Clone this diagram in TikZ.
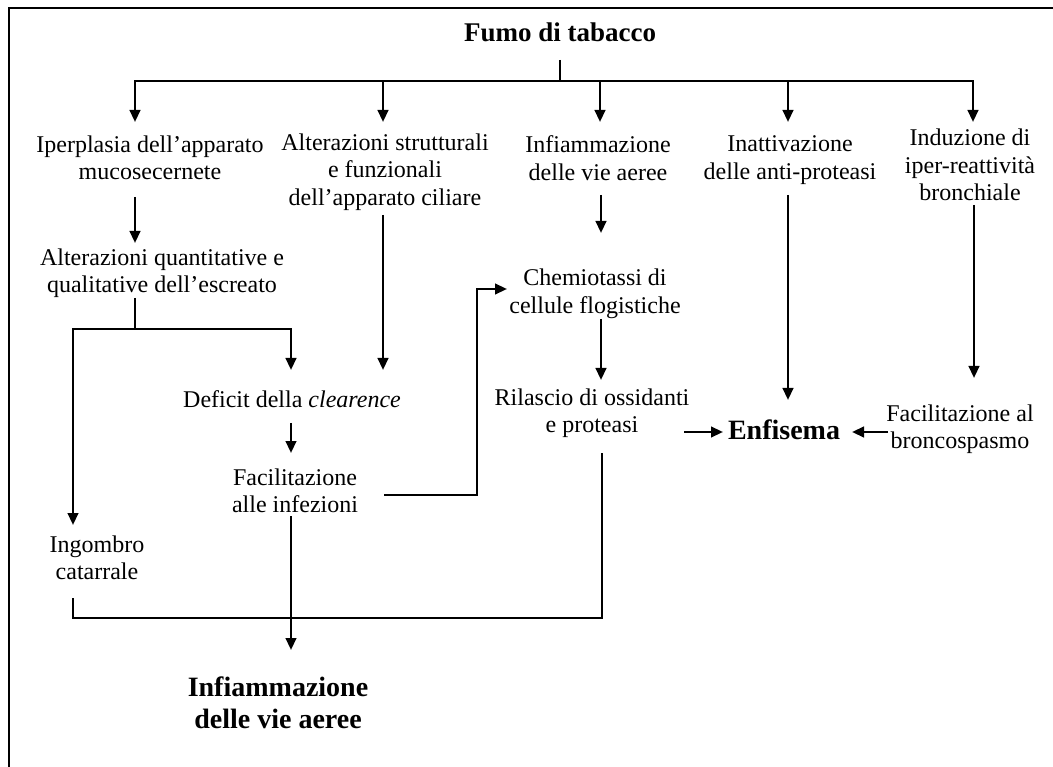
\documentclass[tikz,border=0pt]{standalone}
\usepackage{fontspec}
\setmainfont{Liberation Serif}
\usetikzlibrary{arrows.meta,calc}
\begin{document}
\begin{tikzpicture}[x=1pt,y=-1pt,
  txt/.style={inner sep=0pt, align=center, font=\fontsize{24}{27.5}\selectfont},
  big/.style={inner sep=0pt, align=center, font=\fontsize{28}{32}\selectfont\bfseries},
  ln/.style={line width=2.5pt},
  arr/.style={line width=2.5pt, -{Triangle[length=12pt,width=10.5pt]}},
  frameline/.style={line width=2.5pt}]
\useasboundingbox (0,0) rectangle (1053,767);
% frame (top and left only)
\draw[frameline] (9,767) -- (9,8) -- (1053,8);

% nodes
\node[big, font=\fontsize{27}{32}\selectfont\bfseries] (fumo) at (560,32) {Fumo di tabacco};
\node[txt] (ip) at (150,158) {Iperplasia dell’apparato\\mucosecernete};
\node[txt] (alt) at (385,172) {Alterazioni strutturali\\e funzionali\\dell’apparato ciliare};
\node[txt] (inf) at (598,158) {Infiammazione\\delle vie aeree};
\node[txt] (inat) at (790,160) {Inattivazione\\delle anti-proteasi};
\node[txt] (ind) at (970,165) {Induzione di\\iper-reattività\\bronchiale};
\node[txt] (altq) at (162,273) {Alterazioni quantitative e\\qualitative dell’escreato};
\node[txt] (deficit) at (292,399) {Deficit della \textit{clearence}};
\node[txt] (facil) at (295,491) {Facilitazione\\alle infezioni};
\node[txt] (ingombro) at (97,558) {Ingombro\\catarrale};
\node[txt] (chemio) at (595,294) {Chemiotassi di\\cellule flogistiche};
\node[txt] (rilascio) at (592,413) {Rilascio di ossidanti\\e proteasi};
\node[big] (enf) at (784,430) {Enfisema};
\node[txt] (facbr) at (960,429) {Facilitazione al\\broncospasmo};
\node[big] (infb) at (278,703) {Infiammazione\\delle vie aeree};

% junction coordinates
\coordinate (stemtop) at (560,60);
\coordinate (bus) at (560,81);
\coordinate (busL) at (135,81);
\coordinate (busR) at (973,81);
\coordinate (qtop) at (135,298);
\coordinate (qj) at (135,329);
\coordinate (qL) at (73,329);
\coordinate (qR) at (291,329);
\coordinate (fr) at (384,495);
\coordinate (fc) at (477,495);
\coordinate (fu) at (477,289);
\coordinate (rb) at (602,453);
\coordinate (rc) at (602,618);
\coordinate (ic) at (73,618);
\coordinate (it) at (73,598);

% top distribution
\draw[ln] (stemtop) -- (bus);
\draw[ln, line cap=rect] (busL) -- (busR);
\draw[arr] (busL) -- (135,122);
\draw[arr] (383,81) -- (383,122);
\draw[arr] (600,81) -- (600,122);
\draw[arr] (788,81) -- (788,122);
\draw[arr] (busR) -- (973,122);

% left column
\draw[arr] (135,197) -- (135,243);
\draw[ln] (qtop) -- (qj);
\draw[ln, line cap=rect] (qL) -- (qR);
\draw[arr] (qR) -- (291,370);
\draw[arr] (qL) -- (73,525);
\draw[arr] (383,215) -- (383,370);
\draw[arr] (291,423) -- (291,453);
\draw[arr, line join=miter] (fr) -- (fc) -- (fu) -- (507,289);
\draw[arr] (291,516) -- (291,650);

% middle column
\draw[arr] (601,195) -- (601,233);
\draw[arr] (601,319) -- (601,380);
\draw[ln, line join=miter] (rb) -- (rc) -- (ic) -- (it);
\draw[arr] (684,432) -- (723,432);

% right columns
\draw[arr] (788,195) -- (788,400);
\draw[arr] (974,205) -- (974,378);
\draw[arr] (888,432) -- (852,432);
\end{tikzpicture}
\end{document}
